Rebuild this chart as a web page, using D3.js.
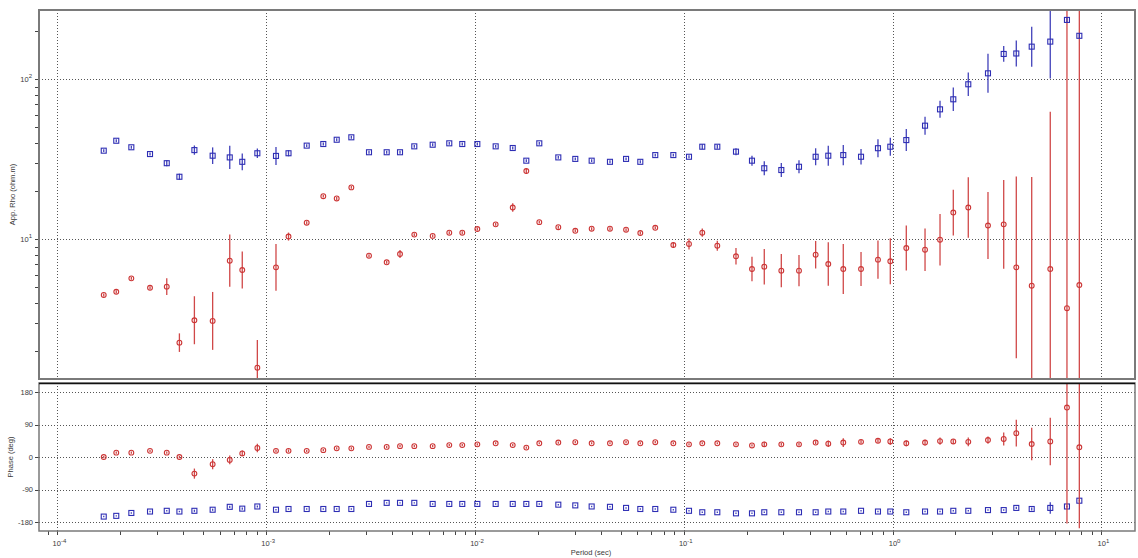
<!DOCTYPE html>
<html>
<head>
<meta charset="utf-8">
<script src="https://cdn.jsdelivr.net/npm/d3@7"></script>
<style>
  body { margin: 0; background: #fff; }
  svg { display: block; }
  text { font-family: "Liberation Sans", Arial, sans-serif; fill: #3a3a3a; }
</style>
</head>
<body>
<svg id="chart" width="1138" height="558"></svg>
<script>
// Sounding periods (s)
const periods = [1.667e-4, 1.914e-4, 2.26e-4, 2.777e-4, 3.34e-4, 3.84e-4, 4.53e-4, 5.54e-4, 6.69e-4, 7.68e-4, 9.07e-4,
  1.114e-3, 1.279e-3, 1.563e-3, 1.877e-3, 2.176e-3, 2.557e-3, 3.107e-3, 3.776e-3, 4.374e-3, 5.12e-3, 6.27e-3, 7.53e-3, 8.69e-3,
  1.026e-2, 1.256e-2, 1.516e-2, 1.761e-2, 2.032e-2, 2.506e-2, 3.022e-2, 3.62e-2, 4.43e-2, 5.29e-2, 6.19e-2, 7.30e-2, 8.91e-2,
  0.1059, 0.1226, 0.1447, 0.1778, 0.2121, 0.2429, 0.2931, 0.3562, 0.428, 0.492, 0.5805, 0.706, 0.851, 0.975,
  1.163, 1.43, 1.687, 1.953, 2.304, 2.863, 3.405, 3.912, 4.637, 5.69, 6.84, 7.84];

// XY apparent resistivity (ohm.m) and its error (log10 half-width)
const rhoXY = [35.8, 41.3, 37.6, 34.1, 29.9, 24.6, 36.1, 33.3, 32.5, 30.5, 34.5,
  33.2, 34.5, 38.5, 39.4, 41.9, 43.4, 35.0, 35.0, 35.0, 38.1, 39.0, 39.8, 39.4,
  39.4, 38.1, 37.2, 31.0, 39.8, 32.5, 31.8, 31.0, 30.5, 31.8, 30.5, 33.6, 33.6,
  32.8, 37.9, 37.9, 35.3, 31.0, 27.8, 27.1, 28.4, 32.8, 33.3, 33.6, 32.8, 37.1, 37.9,
  41.7, 51.3, 64.9, 75.0, 93.1, 109, 144, 145, 160, 172, 235, 187];
const rhoXYErr = [0.009, 0.009, 0.009, 0.009, 0.019, 0.019, 0.029, 0.052, 0.073, 0.052, 0.030,
  0.056, 0.019, 0.009, 0.009, 0.009, 0.009, 0.009, 0.009, 0.009, 0.009, 0.009, 0.009, 0.009,
  0.009, 0.009, 0.009, 0.009, 0.009, 0.009, 0.009, 0.009, 0.009, 0.009, 0.009, 0.009, 0.009,
  0.009, 0.016, 0.013, 0.022, 0.031, 0.044, 0.044, 0.041, 0.053, 0.063, 0.063, 0.049, 0.056, 0.056,
  0.069, 0.056, 0.053, 0.073, 0.073, 0.122, 0.049, 0.081, 0.125, 0.231, 0.013, 0.013];

// YX apparent resistivity (ohm.m) and its error (log10 half-width)
const rhoYX = [4.49, 4.70, 5.70, 4.98, 5.06, 2.26, 3.12, 3.09, 7.35, 6.43, 1.576,
  6.68, 10.4, 12.7, 18.6, 18.0, 21.1, 7.90, 7.18, 8.09, 10.7, 10.5, 11.0, 11.0,
  11.6, 12.4, 15.8, 26.7, 12.8, 11.9, 11.3, 11.65, 11.65, 11.48, 10.95, 11.8, 9.21,
  9.35, 11.0, 9.12, 7.83, 6.52, 6.74, 6.37, 6.37, 8.01, 7.01, 6.52, 6.52, 7.46, 7.29,
  8.82, 8.61, 9.94, 14.7, 15.8, 12.2, 12.4, 6.68, 5.13, 6.52, 3.71, 5.18];
const rhoYXErr = [0.009, 0.009, 0.009, 0.009, 0.052, 0.058, 0.150, 0.181, 0.163, 0.116, 0.173,
  0.146, 0.025, 0.009, 0.009, 0.009, 0.009, 0.009, 0.009, 0.025, 0.009, 0.009, 0.009, 0.009,
  0.009, 0.009, 0.026, 0.019, 0.009, 0.009, 0.009, 0.009, 0.009, 0.009, 0.009, 0.009, 0.019,
  0.034, 0.026, 0.031, 0.052, 0.076, 0.111, 0.104, 0.098, 0.086, 0.136, 0.156, 0.106, 0.120, 0.144,
  0.141, 0.133, 0.161, 0.143, 0.189, 0.209, 0.277, 0.568, 0.679, 0.983, 2.0, 1.875];

// Impedance phases (deg) and errors (deg)
const phaseXY = [-165, -163, -155, -151, -149, -151, -149, -146, -138, -143, -137,
  -146, -144, -144, -144, -144, -144, -130, -127, -127, -127, -130, -130, -130,
  -130, -130, -130, -130, -130, -132, -134, -137, -138, -141, -144, -144, -146,
  -149, -153, -153, -156, -156, -153, -153, -153, -153, -151, -151, -149, -151, -151,
  -153, -151, -151, -149, -149, -147, -147, -141, -144, -141, -137, -121];
const phaseXYErr = [2, 2, 2, 2, 2, 2, 3, 3, 3, 3, 3,
  2, 2, 2, 2, 2, 2, 2, 2, 2, 2, 2, 2, 2,
  2, 2, 2, 2, 2, 2, 2, 2, 2, 2, 2, 2, 2,
  2, 2, 2, 2, 2, 2, 2, 2, 2, 2, 2, 2, 2, 2,
  2, 2, 2, 2, 2, 2, 2, 3, 4, 16, 3, 3];
const phaseYX = [0, 12, 12, 17, 12, 0, -46, -20, -8, 10, 25,
  17, 17, 17, 19, 24, 24, 28, 28, 30, 30, 30, 33, 33,
  35, 38, 33, 26, 38, 40, 41, 38, 38, 41, 38, 41, 38,
  35, 38, 38, 35, 32, 35, 35, 35, 40, 37, 40, 42, 45, 43,
  38, 40, 44, 43, 42, 47, 50, 66, 36, 43, 137, 27];
const phaseYXErr = [3, 3, 3, 3, 3, 3, 14, 14, 12, 8, 12,
  4, 4, 3, 3, 3, 3, 3, 3, 3, 3, 3, 3, 3,
  3, 3, 3, 3, 3, 3, 3, 3, 3, 3, 3, 3, 3,
  3, 3, 3, 3, 3, 7, 4, 4, 4, 9, 12, 5, 5, 9,
  8, 8, 10, 6, 12, 10, 18, 37, 45, 66, 321, 224];

// Axis ticks
const periodTicks = [1e-4, 1e-3, 1e-2, 1e-1, 1, 10];
const rhoTicks = [10, 100];
const phaseTicks = [-180, -90, 0, 90, 180];

const BLUE = "#2e2eb4", RED = "#cc3535";

const svg = d3.select("#chart");
const L = 39, R = 1135;
const top1 = 10, bot1 = 379;   // resistivity panel
const top2 = 383, bot2 = 531;  // phase panel

const x = d3.scaleLog().domain([1e-4, 10]).range([57.4, 1101.4]);
const yRho = d3.scaleLog().domain([10, 100]).range([239.3, 79.3]);
const yPh = d3.scaleLinear().domain([-180, 180]).range([522, 392]);

const defs = svg.append("defs");
defs.append("clipPath").attr("id", "clipRho").append("rect")
  .attr("x", L).attr("y", top1).attr("width", R - L).attr("height", bot1 - top1);
defs.append("clipPath").attr("id", "clipPh").append("rect")
  .attr("x", L).attr("y", top2).attr("width", R - L).attr("height", bot2 - top2);

function superLabel(sel, exp) {
  sel.append("tspan").text("10");
  sel.append("tspan").attr("dy", -3.5).attr("font-size", 6).text(exp);
}

// ---------- grid ----------
const grid = svg.append("g").attr("stroke", "#555").attr("stroke-width", 1)
  .attr("stroke-dasharray", "1,2").attr("fill", "none");
periodTicks.forEach(t => {
  const px = Math.round(x(t)) + 0.5;
  grid.append("line").attr("x1", px).attr("x2", px).attr("y1", top1).attr("y2", bot1);
  grid.append("line").attr("x1", px).attr("x2", px).attr("y1", top2).attr("y2", bot2);
});
rhoTicks.forEach(t => {
  const py = Math.round(yRho(t)) + 0.5;
  grid.append("line").attr("x1", L).attr("x2", R).attr("y1", py).attr("y2", py);
});
phaseTicks.forEach(t => {
  const py = Math.round(yPh(t)) + 0.5;
  grid.append("line").attr("x1", L).attr("x2", R).attr("y1", py).attr("y2", py);
});

// ---------- axes ----------
const axisG = svg.append("g").attr("stroke", "#444").attr("stroke-width", 1);
// minor/major ticks for resistivity axis
const rhoAll = d3.scaleLog().domain([yRho.invert(bot1), yRho.invert(top1)]).ticks();
rhoAll.forEach(t => {
  const py = Math.round(yRho(t)) + 0.5;
  axisG.append("line").attr("x1", L - 4).attr("x2", L).attr("y1", py).attr("y2", py);
});
phaseTicks.forEach(t => {
  const py = Math.round(yPh(t)) + 0.5;
  axisG.append("line").attr("x1", L - 4).attr("x2", L).attr("y1", py).attr("y2", py);
});
const perAll = d3.scaleLog().domain([x.invert(L), x.invert(R)]).ticks();
perAll.forEach(t => {
  const px = Math.round(x(t)) + 0.5;
  axisG.append("line").attr("x1", px).attr("x2", px).attr("y1", bot2).attr("y2", bot2 + 4);
});

const labels = svg.append("g").attr("font-size", 7.5);
rhoTicks.forEach(t => {
  const tx = labels.append("text").attr("x", 32).attr("y", yRho(t) + 2.5).attr("text-anchor", "end");
  superLabel(tx, String(Math.round(Math.log10(t))));
});
phaseTicks.forEach(t => {
  labels.append("text").attr("x", 33).attr("y", yPh(t) + 2.5).attr("text-anchor", "end").text(t);
});
periodTicks.forEach(t => {
  const tx = labels.append("text").attr("x", x(t) + 2).attr("y", 546).attr("text-anchor", "middle");
  superLabel(tx, String(Math.round(Math.log10(t))));
});
labels.append("text").attr("transform", `translate(15,${(top1 + bot1) / 2}) rotate(-90)`)
  .attr("text-anchor", "middle").text("App. Rho (ohm.m)");
labels.append("text").attr("transform", `translate(13,${(top2 + bot2) / 2}) rotate(-90)`)
  .attr("text-anchor", "middle").text("Phase (deg)");
labels.append("text").attr("x", 591).attr("y", 555).attr("text-anchor", "middle").text("Period (sec)");

// ---------- data ----------
const idx = d3.range(periods.length);

function drawSeries(g, yScale, vals, lo, hi, color, shape) {
  g.selectAll(null).data(idx).join("line")
    .attr("x1", i => x(periods[i])).attr("x2", i => x(periods[i]))
    .attr("y1", i => yScale(lo(i))).attr("y2", i => yScale(hi(i)))
    .attr("stroke", color).attr("stroke-width", 1.3).attr("opacity", 0.9);
  if (shape === "square") {
    g.selectAll(null).data(idx).join("rect")
      .attr("x", i => x(periods[i]) - 2.5).attr("y", i => yScale(vals[i]) - 2.5)
      .attr("width", 5).attr("height", 5)
      .attr("fill", "none").attr("stroke", color).attr("stroke-width", 1.1);
  } else {
    g.selectAll(null).data(idx).join("circle")
      .attr("cx", i => x(periods[i])).attr("cy", i => yScale(vals[i])).attr("r", 2.4)
      .attr("fill", "none").attr("stroke", color).attr("stroke-width", 1.1);
  }
}

const gRho = svg.append("g").attr("clip-path", "url(#clipRho)");
drawSeries(gRho, yRho, rhoYX, i => rhoYX[i] / Math.pow(10, rhoYXErr[i]), i => rhoYX[i] * Math.pow(10, rhoYXErr[i]), RED, "circle");
drawSeries(gRho, yRho, rhoXY, i => rhoXY[i] / Math.pow(10, rhoXYErr[i]), i => rhoXY[i] * Math.pow(10, rhoXYErr[i]), BLUE, "square");

const gPh = svg.append("g").attr("clip-path", "url(#clipPh)");
drawSeries(gPh, yPh, phaseXY, i => phaseXY[i] - phaseXYErr[i], i => phaseXY[i] + phaseXYErr[i], BLUE, "square");
drawSeries(gPh, yPh, phaseYX, i => phaseYX[i] - phaseYXErr[i], i => phaseYX[i] + phaseYXErr[i], RED, "circle");

// ---------- frames ----------
svg.append("rect").attr("x", L).attr("y", top1).attr("width", R - L).attr("height", bot1 - top1)
  .attr("fill", "none").attr("stroke", "#7a7a7a").attr("stroke-width", 2);
svg.append("rect").attr("x", L).attr("y", top2).attr("width", R - L).attr("height", bot2 - top2)
  .attr("fill", "none").attr("stroke", "#7a7a7a").attr("stroke-width", 1.5);
svg.append("line").attr("x1", L).attr("x2", R).attr("y1", top2 + 0.5).attr("y2", top2 + 0.5)
  .attr("stroke", "#111").attr("stroke-width", 1.5);
</script>
</body>
</html>
